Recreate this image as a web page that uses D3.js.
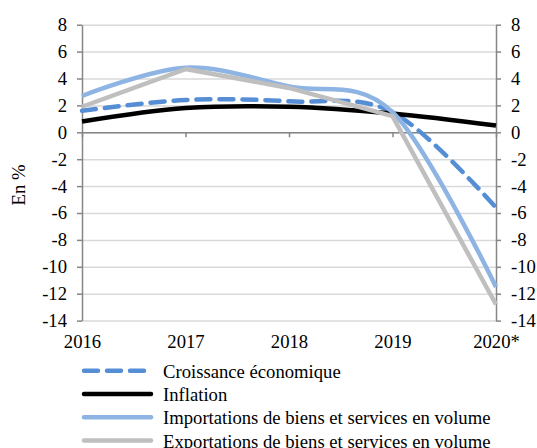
<!DOCTYPE html>
<html>
<head>
<meta charset="utf-8">
<script src="https://cdn.jsdelivr.net/npm/d3@7"></script>
<style>
  body { margin: 0; background: #fff; }
  svg text { font-family: "Liberation Serif", "Times New Roman", serif; font-size: 18.67px; fill: #000; }
</style>
</head>
<body>
<svg id="chart"></svg>
<script>
// Base SVG values
let width = 537
let height = 448

// Data
let years = ["2016", "2017", "2018", "2019", "2020*"]
let croissance = [1.6, 2.4, 2.3, 1.5, -5.6]
let inflation = [0.8, 1.8, 1.9, 1.4, 0.5]
let importations = [2.7, 4.8, 3.4, 1.5, -11.5]
let exportations = [1.9, 4.7, 3.3, 1.2, -12.8]
let yTicks = [-14, -12, -10, -8, -6, -4, -2, 0, 2, 4, 6, 8]

let series = [
  { name: "Croissance économique", values: croissance, color: "#558ed5", dash: "14,9", smooth: true },
  { name: "Inflation", values: inflation, color: "#000000", dash: null, smooth: true },
  { name: "Importations de biens et services en volume", values: importations, color: "#8eb4e3", dash: null, smooth: true },
  { name: "Exportations de biens et services en volume", values: exportations, color: "#bfbfbf", dash: null, smooth: false }
]

let plot = { left: 82, right: 496, top: 24.7, bottom: 320.6 }

let svg = d3.select("#chart")
  .attr("width", width)
  .attr("height", height)

// Scales
let xScale = d3.scalePoint()
  .domain(years)
  .range([plot.left, plot.right])

let yScale = d3.scaleLinear()
  .domain([-14, 8])
  .range([plot.bottom, plot.top])

// plain hyphen for negatives, like the original
let fmt = d => String(d)

function styleAxis(g) {
  g.attr("font-family", null).attr("font-size", null)
  g.select(".domain").attr("stroke", "#868686").attr("stroke-width", 1.5)
  g.selectAll("line").attr("stroke", "#868686").attr("stroke-width", 1.5)
}

// Gridlines
svg.append("g")
  .attr("class", "grid")
  .attr("transform", `translate(${plot.left},0)`)
  .call(d3.axisLeft(yScale).tickValues(yTicks).tickSize(-(plot.right - plot.left)).tickFormat(""))
  .call(g => g.select(".domain").remove())
  .call(g => g.selectAll("line").attr("stroke", "#d9d9d9").attr("stroke-width", 1.5))

// X axis at zero (ticks only)
svg.append("g")
  .attr("transform", `translate(0,${yScale(0)})`)
  .call(d3.axisBottom(xScale).tickSize(5).tickFormat("").tickSizeOuter(0))
  .call(styleAxis)

// X labels at the bottom
svg.append("g")
  .attr("transform", `translate(0,${plot.bottom})`)
  .call(d3.axisBottom(xScale).tickSize(0).tickPadding(0))
  .call(g => g.attr("font-family", null).attr("font-size", null))
  .call(g => g.select(".domain").remove())
  .call(g => g.selectAll("text").attr("y", 27.5).attr("dy", null))

// Left axis
svg.append("g")
  .attr("transform", `translate(${plot.left},0)`)
  .call(d3.axisLeft(yScale).tickValues(yTicks).tickFormat(fmt).tickSize(5).tickPadding(10).tickSizeOuter(0))
  .call(styleAxis)

// Right axis
svg.append("g")
  .attr("transform", `translate(${plot.right},0)`)
  .call(d3.axisRight(yScale).tickValues(yTicks).tickFormat(fmt).tickSize(5).tickPadding(10).tickSizeOuter(0))
  .call(styleAxis)

// Axis title
svg.append("text")
  .attr("transform", "rotate(-90)")
  .attr("x", -185)
  .attr("y", 25)
  .style("text-anchor", "middle")
  .text("En %")

// Lines
series.forEach(s => {
  let line = d3.line()
    .x((d, i) => xScale(years[i]))
    .y(d => yScale(d))
    .curve(s.smooth ? d3.curveCardinal.tension(0) : d3.curveLinear)

  svg.append("path")
    .datum(s.values)
    .attr("d", line)
    .attr("fill", "none")
    .attr("stroke", s.color)
    .attr("stroke-width", 4.5)
    .attr("stroke-linecap", s.dash ? "round" : "butt")
    .attr("stroke-linejoin", "round")
    .attr("stroke-dasharray", s.dash)
})

// Legend
let legend = svg.append("g")
  .selectAll("g")
  .data(series)
  .enter()
  .append("g")
    .attr("transform", (d, i) => `translate(0,${370.7 + i * 23.3})`)

legend.append("line")
  .attr("x1", 84)
  .attr("x2", 151)
  .attr("stroke", d => d.color)
  .attr("stroke-width", 4.5)
  .attr("stroke-linecap", "round")
  .attr("stroke-dasharray", d => d.dash)

legend.append("text")
  .attr("x", 163)
  .attr("y", 7)
  .text(d => d.name)
</script>
</body>
</html>
